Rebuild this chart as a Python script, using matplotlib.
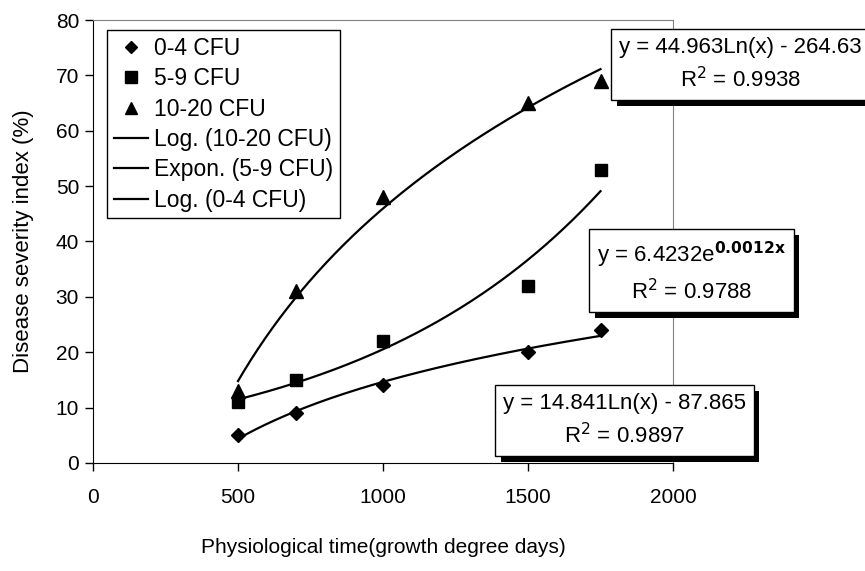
import numpy as np
import matplotlib
matplotlib.use('Agg')
import matplotlib.pyplot as plt
import matplotlib.patheffects as pe
from matplotlib.lines import Line2D

plt.rcParams['font.family'] = ['Liberation Sans', 'DejaVu Sans']

# data
gdd = np.array([500, 700, 1000, 1500, 1750])
cfu_0_4 = np.array([5, 9, 14, 20, 24])
cfu_5_9 = np.array([11, 15, 22, 32, 53])
cfu_10_20 = np.array([13, 31, 48, 65, 69])

eq_10_20 = 'y = 44.963Ln(x) - 264.63\nR$^2$ = 0.9938'
eq_5_9 = 'y = 6.4232e$^{\\mathbf{0.0012x}}$\nR$^2$ = 0.9788'
eq_0_4 = 'y = 14.841Ln(x) - 87.865\nR$^2$ = 0.9897'

W, H = 865, 571
fig = plt.figure(figsize=(W / 100, H / 100), dpi=100)
ax = fig.add_axes([93 / W, 1 - 463 / H, (673 - 93) / W, (463 - 20) / H])

xs = np.linspace(500, 1750, 200)

# trendlines (Excel style: log and exponential)
b, a = np.polyfit(np.log(gdd), cfu_10_20, 1)
ax.plot(xs, b * np.log(xs) + a, color='black', lw=1.6)
k, c = np.polyfit(gdd, np.log(cfu_5_9), 1)
ax.plot(xs, np.exp(c) * np.exp(k * xs), color='black', lw=1.6)
b, a = np.polyfit(np.log(gdd), cfu_0_4, 1)
ax.plot(xs, b * np.log(xs) + a, color='black', lw=1.6)

ax.plot(gdd, cfu_0_4, 'D', color='black', ms=7, clip_on=False)
ax.plot(gdd, cfu_5_9, 's', color='black', ms=8.5, clip_on=False)
ax.plot(gdd, cfu_10_20, '^', color='black', ms=9.5, clip_on=False)

ax.set_xlim(0, 2000)
ax.set_ylim(0, 80)
ax.set_xticks([0, 500, 1000, 1500, 2000])
ax.set_yticks(range(0, 81, 10))
ax.tick_params(direction='out', length=6, width=1, labelsize=15, top=False, right=False)
ax.tick_params(axis='x', pad=12)
ax.tick_params(axis='y', pad=4)
for s in ['top', 'right']:
    ax.spines[s].set_color('#808080')
for s in ['left', 'bottom']:
    ax.spines[s].set_color('black')

ax.set_xlabel('Physiological time(growth degree days)', fontsize=15, labelpad=22)
ax.set_ylabel('Disease severity index (%)', fontsize=16, labelpad=16)

handles = [
    Line2D([], [], marker='D', ls='none', color='black', ms=6.5),
    Line2D([], [], marker='s', ls='none', color='black', ms=8),
    Line2D([], [], marker='^', ls='none', color='black', ms=9),
    Line2D([], [], color='black', lw=1.6),
    Line2D([], [], color='black', lw=1.6),
    Line2D([], [], color='black', lw=1.6),
]
labels = ['0-4 CFU', '5-9 CFU', '10-20 CFU', 'Log. (10-20 CFU)',
          'Expon. (5-9 CFU)', 'Log. (0-4 CFU)']
leg = fig.legend(handles, labels, loc='upper left',
                 bbox_to_anchor=(107 / W, 1 - 30 / H), bbox_transform=fig.transFigure,
                 borderaxespad=0, fancybox=False, edgecolor='black', framealpha=1,
                 fontsize=16.5, labelspacing=0.32, handlelength=1.5, handletextpad=0.25,
                 borderpad=0.3)
leg.get_frame().set_linewidth(1)

shadow = [pe.SimplePatchShadow(offset=(4, -4), shadow_rgbFace='black', alpha=1), pe.Normal()]


def eq_box(x, y, txt):
    t = fig.text(x / W, 1 - y / H, txt, fontsize=16, ha='left', va='top',
                 multialignment='center', linespacing=1.45,
                 bbox=dict(boxstyle='square,pad=0.35', fc='white', ec='black', lw=1))
    t.get_bbox_patch().set_path_effects(shadow)
    return t


eq_box(619, 37, eq_10_20)
eq_box(597, 240, eq_5_9)
eq_box(503, 393, eq_0_4)

fig.savefig('out.png', dpi=100)
